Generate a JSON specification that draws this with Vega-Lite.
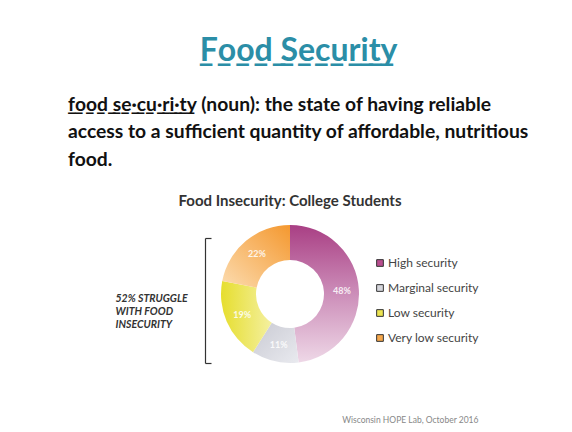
{
  "$schema": "https://vega.github.io/schema/vega-lite/v6.json",
  "background": "white",
  "padding": {"left": 68, "top": 34, "right": 10, "bottom": 5},
  "config": {"view": {"stroke": null}, "font": "Lato"},
  "title": {
    "text": "̲F̲o̲o̲d̲ ̲S̲e̲c̲u̲r̲i̲t̲y",
    "anchor": "middle",
    "font": "Lato",
    "fontSize": 32,
    "fontWeight": "bold",
    "color": "#2b8ea7",
    "offset": 28
  },
  "vconcat": [
    {
      "title": {
        "text": [
          "̲f̲o̲o̲d̲ ̲s̲e̲·̲c̲u̲·̲r̲i̲·̲t̲y (noun): the state of having reliable",
          "access to a sufficient quantity of affordable, nutritious",
          "food."
        ],
        "anchor": "start",
        "frame": "bounds",
        "dx": -47,
        "font": "Lato",
        "fontSize": 19.3,
        "fontWeight": "bold",
        "color": "#111111",
        "lineHeight": 27.5,
        "offset": 24
      },
      "vconcat": [
        {
          "title": {
            "text": "Food Insecurity: College Students",
            "anchor": "middle",
            "frame": "group",
            "font": "Lato",
            "fontSize": 15,
            "fontWeight": "bold",
            "color": "#333333",
            "offset": 15
          },
          "width": 170,
          "height": 140,
          "data": {
            "values": [
              {"category": "High security", "pct": 0.48, "rank": 1},
              {"category": "Marginal security", "pct": 0.11, "rank": 2},
              {"category": "Low security", "pct": 0.19, "rank": 3},
              {"category": "Very low security", "pct": 0.22, "rank": 4}
            ]
          },
          "layer": [
            {
              "mark": {"type": "arc", "innerRadius": 34, "outerRadius": 69},
              "encoding": {
                "theta": {"field": "pct", "type": "quantitative", "stack": true},
                "order": {"field": "rank", "type": "quantitative"},
                "fill": {
                  "field": "category",
                  "type": "nominal",
                  "scale": {
                    "domain": ["High security", "Marginal security", "Low security", "Very low security"],
                    "range": ["#b84d8f", "#d5d6dc", "#ece451", "#f6a84c"]
                  },
                  "legend": {
                    "orient": "none",
                    "legendX": 169,
                    "legendY": 33,
                    "title": null,
                    "padding": 0,
                    "symbolType": "square",
                    "symbolSize": 45,
                    "symbolStrokeColor": "#333333",
                    "symbolStrokeWidth": 1,
                    "labelFont": "Lato",
                    "labelFontSize": 12,
                    "labelColor": "#444444",
                    "rowPadding": 13,
                    "labelOffset": 2
                  },
                  "condition": [
                    {
                      "test": "datum.category === 'High security'",
                      "value": {"gradient": "linear", "x1": 0, "y1": 0, "x2": 0, "y2": 1, "stops": [
                        {"offset": 0, "color": "#a93f84"},
                        {"offset": 0.45, "color": "#c986b4"},
                        {"offset": 1, "color": "#eed8e7"}
                      ]}
                    },
                    {
                      "test": "datum.category === 'Marginal security'",
                      "value": {"gradient": "linear", "x1": 0, "y1": 0, "x2": 1, "y2": 1, "stops": [
                        {"offset": 0, "color": "#c9cad3"},
                        {"offset": 1, "color": "#e9eaef"}
                      ]}
                    },
                    {
                      "test": "datum.category === 'Low security'",
                      "value": {"gradient": "linear", "x1": 0, "y1": 0, "x2": 1, "y2": 0, "stops": [
                        {"offset": 0, "color": "#e6de2e"},
                        {"offset": 1, "color": "#f4f0a0"}
                      ]}
                    },
                    {
                      "test": "datum.category === 'Very low security'",
                      "value": {"gradient": "linear", "x1": 1, "y1": 0, "x2": 0, "y2": 1, "stops": [
                        {"offset": 0, "color": "#f4982f"},
                        {"offset": 1, "color": "#fcdcb0"}
                      ]}
                    }
                  ]
                }
              }
            },
            {
              "mark": {"type": "text", "radius": 52, "color": "white", "fontSize": 9, "fontWeight": "bold", "opacity": 0.85},
              "encoding": {
                "theta": {"field": "pct", "type": "quantitative", "stack": true},
                "order": {"field": "rank", "type": "quantitative"},
                "text": {"field": "pct", "type": "quantitative", "format": ".0%"}
              }
            },
            {
              "mark": {"type": "point", "opacity": 0},
              "encoding": {
                "x": {
                  "datum": 0.5,
                  "type": "quantitative",
                  "scale": {"domain": [0, 1]},
                  "axis": {
                    "orient": "bottom",
                    "domain": false,
                    "ticks": false,
                    "labels": false,
                    "grid": false,
                    "title": "Wisconsin HOPE Lab, October 2016",
                    "titleAnchor": "start",
                    "titleAlign": "right",
                    "titleBaseline": "middle",
                    "titleX": 273,
                    "titleY": 55,
                    "titleFont": "Lato",
                    "titleFontSize": 8.5,
                    "titleFontWeight": "normal",
                    "titleColor": "#888888"
                  }
                },
                "y": {
                  "datum": 0.5,
                  "type": "quantitative",
                  "scale": {"domain": [0, 1], "range": [139, 14], "nice": false, "zero": false},
                  "axis": {
                    "orient": "left",
                    "values": [0, 1],
                    "labels": false,
                    "grid": false,
                    "tickSize": -6,
                    "tickColor": "#333333",
                    "tickWidth": 1.2,
                    "domainColor": "#333333",
                    "domainWidth": 1.2,
                    "title": ["52% STRUGGLE", "WITH FOOD", "INSECURITY"],
                    "titleAngle": 0,
                    "titleAlign": "left",
                    "titleBaseline": "top",
                    "titleX": -90,
                    "titleY": 69,
                    "titleFont": "Lato",
                    "titleFontSize": 10.5,
                    "titleFontStyle": "italic",
                    "titleFontWeight": "bold",
                    "titleColor": "#333333",
                    "titleLineHeight": 13
                  }
                }
              }
            }
          ]
        }
      ]
    }
  ]
}
